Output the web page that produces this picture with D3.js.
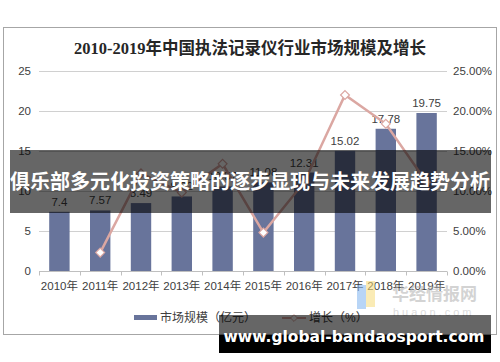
<!DOCTYPE html>
<html>
<head>
<meta charset="utf-8">
<script src="https://cdn.jsdelivr.net/npm/d3@7"></script>
<style>
  body { margin: 0; background: #fff; }
  svg { display: block; }
</style>
</head>
<body>
<svg id="chart" width="500" height="362"></svg>
<script>
// data
var years = ["2010年","2011年","2012年","2013年","2014年","2015年","2016年","2017年","2018年","2019年"];
var market = [7.4, 7.57, 8.49, 9.32, 10.57, 11.08, 12.31, 15.02, 17.78, 19.75];
var growth = [null, 2.3, 12.2, 9.8, 13.4, 4.8, 11.1, 22.0, 18.4, 11.1];
var leftTicks = [0, 5, 10, 15, 20, 25];
var rightTicks = [0, 5, 10, 15, 20, 25];
var legendNames = ["市场规模（亿元）", "增长（%）"];

var svg = d3.select("#chart");
var BAR = "#68749b", LINE = "#dba7a2";
var cjk = "'Liberation Sans','Noto Sans CJK SC',sans-serif";

// outer frame
svg.append("rect").attr("x", 3.5).attr("y", 27.5).attr("width", 493).attr("height", 307)
  .attr("fill", "#fff").attr("stroke", "#a6a6a6").attr("stroke-width", 1);

svg.append("text").attr("x", 250).attr("y", 54).attr("text-anchor", "middle")
  .attr("font-family", "'Liberation Serif','Noto Sans CJK SC',serif").attr("font-weight", "bold")
  .attr("font-size", 16.5).attr("fill", "#262626")
  .text("2010-2019年中国执法记录仪行业市场规模及增长");

var x = d3.scaleBand().domain(years).range([39, 447]).paddingInner(0.5).paddingOuter(0.25);
var yL = d3.scaleLinear().domain([0, 25]).range([271, 71]);
var yR = d3.scaleLinear().domain([0, 25]).range([271, 71]);

// gridlines
svg.append("g").selectAll("line").data(leftTicks.slice(1)).join("line")
  .attr("x1", 39).attr("x2", 447)
  .attr("y1", function(d){ return yL(d) + 0.5; }).attr("y2", function(d){ return yL(d) + 0.5; })
  .attr("stroke", "#d0d0d0").attr("stroke-width", 1);

// left axis labels
svg.append("g").attr("transform", "translate(31,0)")
  .call(d3.axisLeft(yL).tickValues(leftTicks).tickSize(0).tickPadding(0))
  .call(function(g){ g.select(".domain").remove(); })
  .selectAll("text").attr("font-family", cjk).attr("font-size", 11.5).attr("fill", "#404040");

// right axis labels
svg.append("g").attr("transform", "translate(453,0)")
  .call(d3.axisRight(yR).tickValues(rightTicks).tickSize(0).tickPadding(0)
    .tickFormat(function(d){ return d.toFixed(2) + "%"; }))
  .call(function(g){ g.select(".domain").remove(); })
  .selectAll("text").attr("font-family", cjk).attr("font-size", 11.5).attr("fill", "#404040");

// bars
svg.append("g").selectAll("rect").data(market).join("rect")
  .attr("x", function(d, i){ return x(years[i]); })
  .attr("y", function(d){ return yL(d); })
  .attr("width", x.bandwidth())
  .attr("height", function(d){ return yL(0) - yL(d); })
  .attr("fill", BAR);

// x axis line and ticks between categories
var bottom = svg.append("g").attr("transform", "translate(0," + (yL(0) + 0.5) + ")");
bottom.append("line").attr("x1", 39).attr("x2", 447).attr("stroke", "#bfbfbf");
var bounds = years.map(function(y){ return x(y) - x.step() * x.paddingInner() / 2; }).concat([447]);
bottom.selectAll(".tk").data(bounds).join("line").attr("class", "tk")
  .attr("x1", function(d){ return Math.round(d) + 0.5; }).attr("x2", function(d){ return Math.round(d) + 0.5; })
  .attr("y1", 0).attr("y2", 4).attr("stroke", "#bfbfbf");
bottom.call(d3.axisBottom(x).tickSize(0).tickPadding(10))
  .call(function(g){ g.select(".domain").remove(); })
  .selectAll("text").attr("font-family", cjk).attr("font-size", 11.5).attr("fill", "#404040");

// bar value labels
svg.append("g").selectAll("text").data(market).join("text")
  .attr("x", function(d, i){ return x(years[i]) + x.bandwidth() / 2; })
  .attr("y", function(d){ return yL(d) - 6; })
  .attr("text-anchor", "middle").attr("font-family", cjk).attr("font-size", 11.5).attr("fill", "#404040")
  .text(function(d){ return d; });

// growth line
var pts = growth.map(function(g, i){ return {year: years[i], v: g}; }).filter(function(d){ return d.v != null; });
var line = d3.line().x(function(d){ return x(d.year) + x.bandwidth() / 2; }).y(function(d){ return yR(d.v); });
svg.append("path").datum(pts).attr("d", line).attr("fill", "none")
  .attr("stroke", LINE).attr("stroke-width", 2.5);
var diamond = d3.symbol().type(d3.symbolDiamond2).size(50);
svg.append("g").selectAll("path").data(pts).join("path")
  .attr("d", diamond)
  .attr("transform", function(d){ return "translate(" + (x(d.year) + x.bandwidth() / 2) + "," + yR(d.v) + ")"; })
  .attr("fill", "#fff").attr("stroke", LINE).attr("stroke-width", 1.2);

// watermark
var wm = svg.append("g").attr("opacity", 0.55);
wm.append("rect").attr("x", 357).attr("y", 285).attr("width", 9).attr("height", 24).attr("fill", "#7fb3f0");
wm.append("rect").attr("x", 366).attr("y", 281).attr("width", 9).attr("height", 26).attr("fill", "#f7dc7a");
wm.append("text").attr("x", 392).attr("y", 300).attr("font-family", cjk).attr("font-weight", "bold")
  .attr("font-size", 17).attr("fill", "#b0b0b0").text("华经情报网");
wm.append("text").attr("x", 393).attr("y", 316).attr("font-family", cjk)
  .attr("font-size", 11).attr("letter-spacing", 3).attr("fill", "#c0c0c0").text("huaon.com");

// legend
var lg = svg.append("g");
lg.append("rect").attr("x", 134).attr("y", 315).attr("width", 23).attr("height", 5).attr("fill", BAR);
lg.append("text").attr("x", 160).attr("y", 322).attr("font-family", cjk).attr("font-size", 12)
  .attr("fill", "#404040").text(legendNames[0]);
lg.append("line").attr("x1", 282).attr("x2", 306).attr("y1", 318).attr("y2", 318)
  .attr("stroke", LINE).attr("stroke-width", 2);
lg.append("path").attr("d", d3.symbol().type(d3.symbolDiamond2).size(30))
  .attr("transform", "translate(294,318)").attr("fill", "#fff").attr("stroke", LINE);
lg.append("text").attr("x", 309).attr("y", 322).attr("font-family", cjk).attr("font-size", 12)
  .attr("fill", "#404040").text(legendNames[1]);

// dark banner across the middle
svg.append("rect").attr("x", 10).attr("y", 150).attr("width", 481).attr("height", 63)
  .attr("fill", "#000").attr("opacity", 0.6);
svg.append("text").attr("x", 250).attr("y", 189).attr("text-anchor", "middle")
  .attr("font-family", "'Noto Sans CJK SC',sans-serif").attr("font-weight", "bold")
  .attr("font-size", 20).attr("fill", "#fff")
  .text("俱乐部多元化投资策略的逐步显现与未来发展趋势分析");

// site box bottom right
svg.append("rect").attr("x", 219).attr("y", 315).attr("width", 272).attr("height", 20)
  .attr("fill", "#000").attr("opacity", 0.6);
svg.append("rect").attr("x", 219).attr("y", 335).attr("width", 272).attr("height", 18).attr("fill", "#000");
svg.append("text").attr("x", 354).attr("y", 342).attr("text-anchor", "middle")
  .attr("font-family", "'DejaVu Sans',sans-serif").attr("font-weight", "bold")
  .attr("font-size", 15.5).attr("fill", "#fff")
  .text("www.global-bandaosport.com");
</script>
</body>
</html>
